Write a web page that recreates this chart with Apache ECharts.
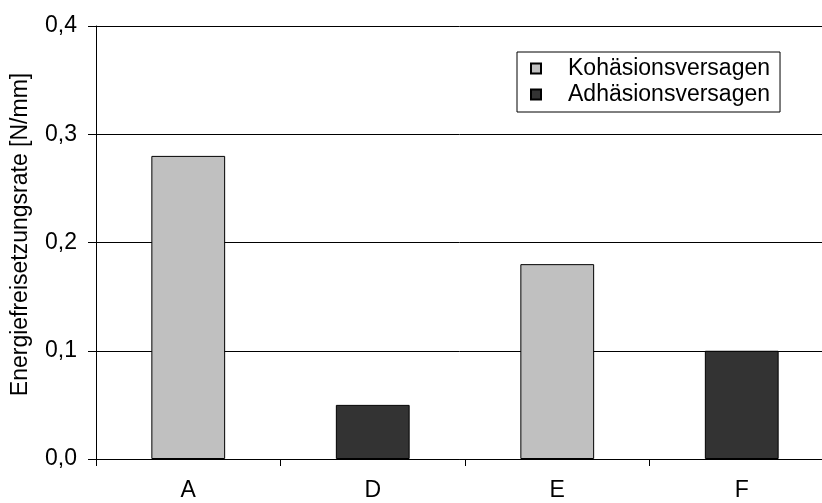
<!DOCTYPE html>
<html>
<head>
<meta charset="utf-8">
<script src="https://cdn.jsdelivr.net/npm/echarts@6/dist/echarts.min.js"></script>
<style>
html,body{margin:0;padding:0;background:#fff;}
#chart{width:822px;height:503px;}
</style>
</head>
<body>
<div id="chart"></div>
<script>
// Proben und gemessene Energiefreisetzungsraten je Versagensart
const categories = ['A', 'D', 'E', 'F'];
const kohaesion = [0.28, null, 0.18, null];
const adhaesion = [null, 0.05, null, 0.10];
const yTicks = [0, 0.1, 0.2, 0.3, 0.4];

const font = 'Liberation Sans, Arial, sans-serif';
const chart = echarts.init(document.getElementById('chart'), null, {renderer: 'canvas'});

chart.setOption({
  animation: false,
  backgroundColor: '#ffffff',
  // the plot area runs slightly past the right edge of the page
  grid: {left: 96, width: 738, top: 26, bottom: 44, containLabel: false, outerBoundsMode: 'none'},
  legend: {
    orient: 'vertical',
    left: 517,
    top: 52,
    itemWidth: 10,
    itemHeight: 10,
    itemGap: 3,
    padding: [5, 10, 6, 13],
    borderColor: '#000',
    borderWidth: 1,
    backgroundColor: '#fff',
    icon: 'rect',
    textStyle: {fontFamily: font, fontSize: 23, color: '#000', padding: [0, 0, 0, 22]},
    data: ['Kohäsionsversagen', 'Adhäsionsversagen']
  },
  xAxis: {
    type: 'category',
    data: categories,
    axisLine: {lineStyle: {color: '#000', width: 1}},
    axisTick: {show: true, length: 7, inside: false, alignWithLabel: false, lineStyle: {color: '#000'}},
    axisLabel: {fontFamily: font, fontSize: 23, color: '#000', margin: 20}
  },
  yAxis: {
    type: 'value',
    min: yTicks[0],
    max: yTicks[yTicks.length - 1],
    interval: 0.1,
    name: 'Energiefreisetzungsrate [N/mm]',
    nameLocation: 'middle',
    nameGap: 64,
    nameTextStyle: {fontFamily: font, fontSize: 23, color: '#000', padding: [0, 0, 0, 16]},
    axisLine: {show: true, lineStyle: {color: '#000', width: 1}},
    axisTick: {show: true, length: 8, lineStyle: {color: '#000'}},
    axisLabel: {
      fontFamily: font, fontSize: 23, color: '#000', margin: 19,
      formatter: v => v.toFixed(1).replace('.', ',')
    },
    splitLine: {show: true, lineStyle: {color: '#000', width: 1}}
  },
  series: [
    {
      name: 'Kohäsionsversagen',
      type: 'bar',
      stack: 'gesamt',
      barWidth: '40%',
      data: kohaesion.map(v => v === null ? '-' : v),
      itemStyle: {color: '#c0c0c0', borderColor: '#000', borderWidth: 1}
    },
    {
      name: 'Adhäsionsversagen',
      type: 'bar',
      stack: 'gesamt',
      barWidth: '40%',
      data: adhaesion.map(v => v === null ? '-' : v),
      itemStyle: {color: '#333333', borderColor: '#000', borderWidth: 1}
    }
  ]
});
</script>
</body>
</html>
